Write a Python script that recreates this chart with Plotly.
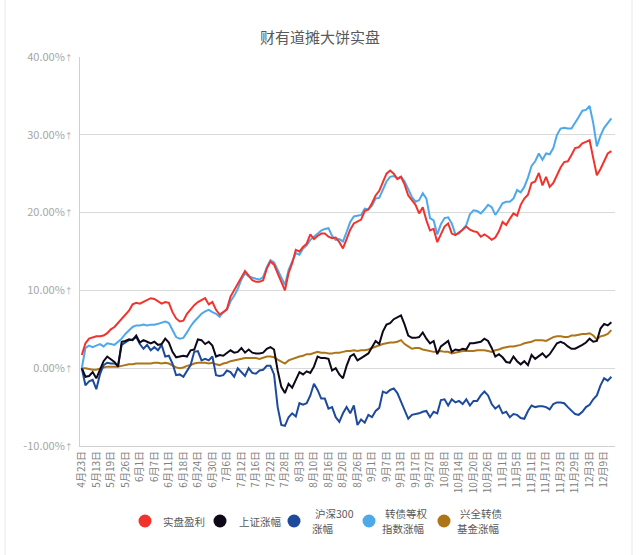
import plotly.graph_objects as go

# Tick labels (every 4th trading day)
tick_labels = ["4月23日", "5月13日", "5月19日", "5月26日", "6月1日", "6月7日", "6月11日", "6月18日",
               "6月24日", "6月30日", "7月6日", "7月12日", "7月16日", "7月22日", "7月28日", "8月3日",
               "8月10日", "8月16日", "8月20日", "8月26日", "9月1日", "9月7日", "9月13日", "9月17日",
               "9月27日", "10月8日", "10月14日", "10月20日", "10月26日", "11月1日", "11月5日", "11月11日",
               "11月17日", "11月23日", "11月29日", "12月3日", "12月9日"]

shipan = [1.7, 3.2, 3.8, 4.0, 4.1, 4.1, 4.2, 4.5, 5.0, 5.3, 5.8, 6.3, 6.8, 7.4, 8.2, 8.4, 8.3, 8.5, 8.8, 9.0,
          8.9, 8.6, 8.3, 8.5, 8.4, 7.2, 6.4, 6.0, 6.1, 7.0, 7.6, 8.1, 8.5, 8.7, 9.0, 8.2, 8.5, 7.5, 6.9, 7.2,
          7.6, 9.2, 10.0, 10.8, 11.7, 12.5, 11.9, 11.3, 11.1, 11.1, 11.3, 12.8, 13.7, 13.3, 12.2, 11.0, 10.0, 12.2, 13.5, 15.2,
          15.0, 15.6, 16.0, 17.2, 16.6, 17.0, 17.3, 17.3, 16.9, 16.7, 16.8, 16.2, 15.4, 16.6, 17.8, 18.6, 18.9, 19.1, 20.2, 20.4,
          21.2, 22.2, 22.8, 23.9, 25.0, 25.4, 25.0, 24.3, 24.6, 23.6, 22.2, 21.6, 21.0, 19.9, 20.7, 19.0, 17.7, 17.9, 16.2, 17.2,
          18.2, 18.6, 17.3, 17.1, 17.4, 17.8, 18.2, 17.8, 17.6, 17.5, 16.9, 17.2, 16.9, 16.5, 16.8, 17.6, 18.8, 18.4, 19.2, 19.9,
          19.6, 21.0, 21.8, 22.3, 23.8, 24.0, 25.1, 23.5, 24.6, 23.3, 23.8, 24.8, 25.8, 26.5, 26.6, 27.4, 28.3, 28.4, 28.9, 29.1,
          29.3, 27.0, 24.8, 25.6, 26.6, 27.6, 27.9]

shangzheng = [0.0, -1.1, -1.0, -0.5, -1.3, -0.2, 0.9, 1.5, 1.1, 0.8, 0.2, 3.4, 3.5, 3.7, 3.6, 4.2, 3.3, 3.6, 3.4, 3.2,
              3.4, 3.0, 3.1, 3.8, 3.3, 2.1, 1.4, 1.5, 1.6, 1.5, 2.3, 2.4, 3.7, 3.6, 3.1, 3.4, 2.9, 1.5, 1.7, 1.6,
              1.9, 2.3, 2.0, 2.1, 2.6, 2.0, 2.4, 2.0, 1.9, 1.9, 2.0, 2.5, 2.7, 2.4, -0.3, -2.4, -3.2, -2.0, -2.5, -1.5,
              -0.5, -0.8, -0.4, -0.6, 0.2, 1.5, 1.3, 1.3, 1.2, -0.3, 0.0, -0.8, -1.3, 0.3, 1.5, 1.8, 1.0, 1.3, 1.6, 1.9,
              2.7, 3.5, 3.1, 4.7, 5.6, 5.8, 6.3, 6.6, 6.8, 5.6, 4.2, 3.9, 3.9, 4.0, 4.6, 3.8, 3.2, 3.5, 1.8, 2.8,
              3.2, 3.5, 2.1, 2.4, 2.3, 2.5, 2.4, 3.2, 3.2, 3.3, 3.4, 3.8, 3.5, 2.6, 1.5, 1.8, 1.4, 0.8, 0.7, 1.5,
              0.9, 0.5, 0.9, 0.4, 1.7, 1.2, 1.5, 1.9, 1.4, 1.8, 2.5, 3.2, 3.4, 3.2, 2.8, 2.5, 2.5, 2.7, 3.0, 3.3,
              3.8, 3.4, 3.5, 5.1, 5.7, 5.5, 5.9]

hs300 = [0.0, -2.2, -1.7, -1.5, -2.7, -0.8, 0.4, 0.7, 0.6, 0.6, 0.4, 3.0, 3.3, 3.6, 3.7, 4.0, 3.1, 2.5, 3.0, 2.3,
         2.7, 2.3, 3.0, 1.5, 1.6, 0.6, -0.9, -0.8, -1.1, -0.3, 0.4, 2.1, 2.2, 1.0, 1.2, 1.0, 1.5, -0.9, -1.0, -0.9,
         -0.3, -0.5, -1.1, 0.0, -0.5, -1.0, 0.0, -0.6, -0.7, -0.3, -0.2, 0.3, 0.3, -0.8, -5.0, -7.3, -7.4, -6.3, -5.8, -6.2,
         -4.5, -4.7, -4.5, -3.5, -2.0, -2.8, -3.9, -3.9, -5.2, -5.0, -6.3, -6.9, -5.8, -5.0, -5.8, -4.8, -7.3, -6.6, -7.0, -6.0,
         -6.3, -5.5, -5.1, -3.0, -3.2, -2.8, -2.6, -3.2, -4.3, -5.5, -6.5, -6.0, -5.9, -5.8, -5.6, -5.5, -6.3, -5.6, -5.8, -4.1,
         -4.0, -4.8, -4.0, -4.4, -4.2, -4.6, -4.0, -4.8, -4.2, -4.2, -3.5, -3.0, -3.5, -4.6, -5.2, -4.8, -5.8, -5.6, -6.3, -5.9,
         -6.0, -6.4, -6.5, -5.5, -4.8, -5.0, -4.9, -4.9, -5.0, -5.3, -4.6, -4.4, -4.4, -4.5, -5.0, -5.4, -5.9, -6.0, -5.6, -5.0,
         -4.7, -4.0, -3.5, -2.2, -1.3, -1.6, -1.1]

zhuanzhai = [0.0, 2.6, 2.9, 2.7, 2.9, 3.1, 2.8, 3.2, 3.1, 3.0, 3.4, 3.8, 4.4, 4.9, 5.3, 5.5, 5.5, 5.6, 5.5, 5.6,
             5.6, 5.7, 5.9, 6.0, 5.8, 4.8, 4.0, 3.8, 3.9, 4.6, 5.4, 6.0, 6.5, 7.0, 7.3, 7.5, 7.2, 7.0, 6.6, 7.2,
             7.5, 8.6, 9.3, 10.2, 11.4, 12.2, 11.8, 11.6, 11.5, 11.4, 11.7, 13.0, 13.9, 13.6, 12.6, 11.5, 10.7, 12.6, 13.6, 14.8,
             14.6, 15.4, 15.8, 16.5, 16.9, 17.3, 17.7, 17.9, 18.0, 17.0, 16.5, 16.6, 16.3, 17.5, 18.8, 19.5, 19.6, 19.7, 20.5, 20.4,
             20.9, 21.8, 21.9, 23.0, 24.0, 24.6, 24.7, 24.4, 24.6, 24.0, 23.0, 22.0, 21.4, 21.6, 22.5, 21.8, 19.3, 19.0, 17.2, 18.5,
             19.3, 19.4, 18.6, 17.2, 17.3, 17.8, 18.4, 19.8, 20.3, 20.2, 19.9, 20.4, 21.0, 20.7, 19.7, 20.4, 21.2, 21.4, 21.4, 21.8,
             22.9, 22.6, 23.3, 24.5, 26.0, 26.6, 27.6, 26.8, 27.6, 27.5, 28.3, 30.0, 30.8, 30.9, 30.8, 30.8, 31.5, 32.3, 33.1, 33.2,
             33.7, 31.5, 28.5, 29.9, 30.9, 31.5, 32.1]

xingquan = [0.0, 0.0, -0.1, -0.2, -0.2, 0.0, 0.1, 0.2, 0.2, 0.2, 0.2, 0.3, 0.4, 0.5, 0.5, 0.6, 0.6, 0.6, 0.6, 0.6,
            0.7, 0.7, 0.6, 0.7, 0.6, 0.3, 0.1, 0.0, 0.1, 0.3, 0.4, 0.6, 0.7, 0.7, 0.7, 0.6, 0.7, 0.5, 0.4, 0.6,
            0.7, 0.9, 1.0, 1.1, 1.2, 1.3, 1.3, 1.3, 1.3, 1.2, 1.4, 1.5, 1.5, 1.4, 1.1, 0.9, 0.6, 1.0, 1.2, 1.3,
            1.5, 1.6, 1.8, 1.8, 2.0, 2.1, 2.0, 2.0, 1.9, 1.9, 2.0, 2.0, 2.1, 2.2, 2.2, 2.3, 2.2, 2.3, 2.3, 2.4,
            2.6, 2.8, 3.0, 3.1, 3.2, 3.3, 3.3, 3.4, 3.6, 3.1, 2.8, 2.5, 2.6, 2.6, 2.4, 2.3, 2.2, 2.1, 2.1, 2.2,
            2.1, 2.1, 1.9, 2.0, 2.1, 2.2, 2.2, 2.2, 2.2, 2.3, 2.3, 2.3, 2.2, 2.1, 2.3, 2.4, 2.6, 2.7, 2.8, 2.8,
            2.9, 3.0, 3.2, 3.3, 3.4, 3.6, 3.6, 3.6, 3.5, 3.8, 4.0, 4.1, 4.1, 4.0, 4.0, 4.2, 4.2, 4.3, 4.4, 4.4,
            4.5, 4.2, 3.7, 4.1, 4.2, 4.4, 4.9]

series_names = [["实盘盈利"], ["上证涨幅"], ["沪深300", "涨幅"], ["转债等权", "指数涨幅"], ["兴全转债", "基金涨幅"]]
series_data = [shipan, shangzheng, hs300, zhuanzhai, xingquan]
series_colors = ["#F2332D", "#0E0818", "#1E4A9C", "#4DA9EA", "#AE7418"]

y_ticks = [-10, 0, 10, 20, 30, 40]
y_ticktext = [f"{v:.2f}%<span style='font-size:8px'>↑</span>" for v in y_ticks]

x_idx = list(range(len(shipan)))
tick_pos = x_idx[::4][:len(tick_labels)]

FONT = "Noto Sans CJK SC, Noto Sans, sans-serif"

# plot area in pixels
L, R, T, B = 80, 615, 57, 446
def px(xp):
    return (xp - L) / (R - L)
def py(yp):
    return (B - yp) / (B - T)

fig = go.Figure()
for k in [4, 2, 1, 3, 0]:
    fig.add_trace(go.Scatter(
        x=x_idx, y=series_data[k], mode="lines", showlegend=False,
        line=dict(color=series_colors[k], width=2), hoverinfo="skip"))

# custom legend
shapes = [
    dict(type="line", xref="paper", yref="paper", x0=px(5), x1=px(5), y0=py(555), y1=py(0),
         line=dict(color="#E8E8E8", width=1)),
    dict(type="line", xref="paper", yref="paper", x0=px(632), x1=px(632), y0=py(555), y1=py(0),
         line=dict(color="#E8E8E8", width=1)),
]
annotations = []
circle_x = [145, 220, 294, 369, 444]
text_x = [[161], [237], [313, 310], [383, 380], [458, 455]]
for k in range(5):
    shapes.append(dict(type="circle", xref="paper", yref="paper", xsizemode="pixel", ysizemode="pixel",
                       xanchor=px(circle_x[k]), yanchor=py(521), x0=-6.5, x1=6.5, y0=-6.5, y1=6.5,
                       fillcolor=series_colors[k], line=dict(width=0)))
    lines = series_names[k]
    ys = [521] if len(lines) == 1 else [513.5, 528.5]
    for j, t in enumerate(lines):
        annotations.append(dict(text=t, xref="paper", yref="paper", x=px(text_x[k][j]), y=py(ys[j]),
                                xanchor="left", yanchor="middle", showarrow=False,
                                font=dict(size=10.5, color="#595959", family=FONT)))

fig.update_layout(
    width=640, height=555,
    margin=dict(l=L, r=640 - R, t=T, b=555 - B, autoexpand=False),
    paper_bgcolor="white", plot_bgcolor="white",
    font=dict(family=FONT, color="#7F7F7F"),
    showlegend=False,
    title=dict(text="财有道摊大饼实盘", x=0.5, xanchor="center", y=1 - 38 / 555, yanchor="middle",
               font=dict(size=15, color="#595959", family=FONT)),
    shapes=shapes, annotations=annotations,
)
fig.update_xaxes(
    range=[-0.5, 147], tickmode="array", tickvals=tick_pos, ticktext=tick_labels,
    tickangle=-90, tickfont=dict(size=10, color="#808080", family=FONT),
    showgrid=False, showline=True, linecolor="#D0D0D0", linewidth=1,
    ticks="", zeroline=False, automargin=False)
fig.update_yaxes(
    range=[-10, 40], tickmode="array", tickvals=y_ticks, ticktext=y_ticktext,
    tickfont=dict(size=11, color="#A6A6A6", family=FONT),
    showgrid=True, gridcolor="#D9D9D9", gridwidth=1,
    showline=True, linecolor="#D0D0D0", linewidth=1, zeroline=False,
    ticks="", ticklabelstandoff=4, automargin=False)

fig.write_html("out.html", config={"displayModeBar": False},
               post_script="document.body.style.margin='0px';")
